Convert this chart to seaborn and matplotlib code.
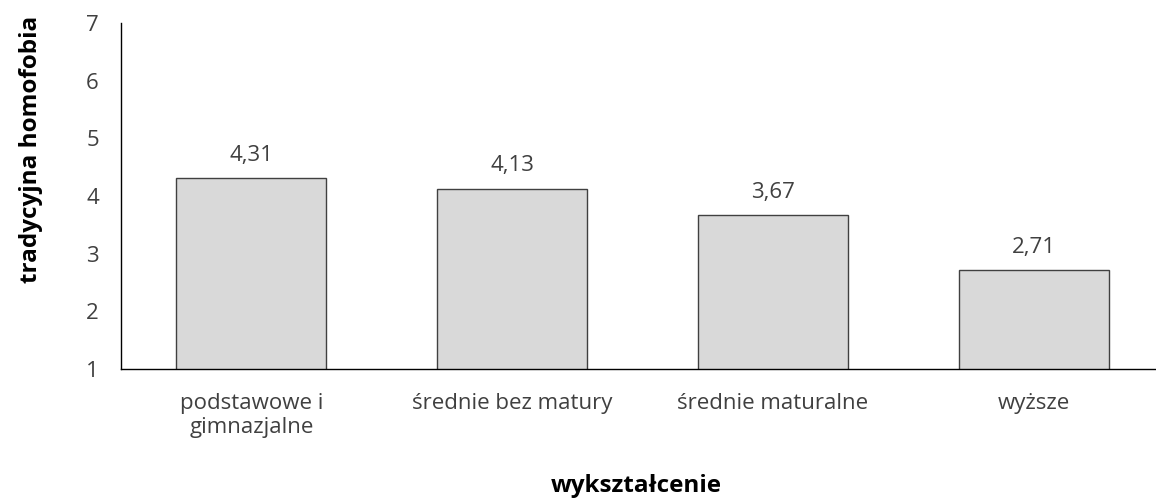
import matplotlib
matplotlib.use("Agg")
import matplotlib.pyplot as plt
import seaborn as sns
import pandas as pd

categories = ["podstawowe i\ngimnazjalne", "średnie bez matury", "średnie maturalne", "wyższe"]
values = [4.31, 4.13, 3.67, 2.71]
yticks = [1, 2, 3, 4, 5, 6, 7]

df = pd.DataFrame({"wyksztalcenie": categories, "wartosc": values})

sns.set_style("white")
plt.rcParams["font.family"] = ["Open Sans", "DejaVu Sans"]

fig = plt.figure(figsize=(11.56, 5), dpi=100)
ax = fig.add_axes([121 / 1156, 131 / 500, 1043 / 1156, 346 / 500])

sns.barplot(data=df, x="wyksztalcenie", y="wartosc", color="#d9d9d9",
            edgecolor="#404040", linewidth=1, width=0.575, saturation=1, ax=ax)

ax.set_ylim(1, 7)
ax.set_xlim(-0.5, 3.5)
ax.set_yticks(yticks)
ax.tick_params(axis="both", length=0, labelsize=16, colors="#404040")
ax.tick_params(axis="x", pad=17)
ax.tick_params(axis="y", pad=16)

for i, v in enumerate(values):
    ax.annotate(f"{v:.2f}".replace(".", ","), (i, v), xytext=(0, 9),
                textcoords="offset points", ha="center", va="bottom",
                fontsize=16, color="#404040")

sns.despine(ax=ax, top=True, right=True)
for s in ["left", "bottom"]:
    ax.spines[s].set_color("#000000")
    ax.spines[s].set_linewidth(1)

ax.set_ylabel("tradycyjna homofobia", fontsize=17.5, fontweight="bold", color="#000000")
ax.set_xlabel("wykształcenie", fontsize=17.5, fontweight="bold", color="#000000")
ax.yaxis.set_label_coords(-78 / 1043, 0.636)
ax.xaxis.set_label_coords(515 / 1043, -105 / 346)

fig.savefig("out.png", dpi=100)
